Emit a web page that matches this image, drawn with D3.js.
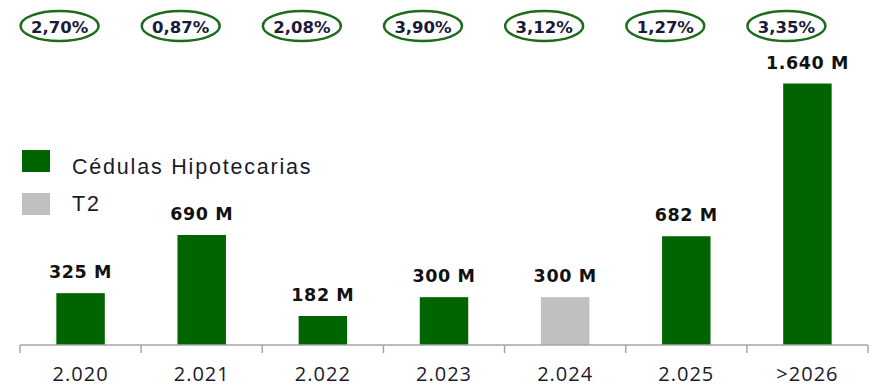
<!DOCTYPE html>
<html>
<head>
<meta charset="utf-8">
<script src="https://cdn.jsdelivr.net/npm/d3@7"></script>
<style>
  html, body { margin: 0; padding: 0; background: #fff; }
  svg { display: block; }
</style>
</head>
<body>
<svg id="chart" width="876" height="386"></svg>
<script>
// Maturities by year
const categories = ["2.020", "2.021", "2.022", "2.023", "2.024", "2.025", ">2026"];
const amounts = [325, 690, 182, 300, 300, 682, 1640];
const amountLabels = ["325 M", "690 M", "182 M", "300 M", "300 M", "682 M", "1.640 M"];
const seriesOf = ["Cédulas Hipotecarias", "Cédulas Hipotecarias", "Cédulas Hipotecarias",
                  "Cédulas Hipotecarias", "T2", "Cédulas Hipotecarias", "Cédulas Hipotecarias"];
const rates = ["2,70%", "0,87%", "2,08%", "3,90%", "3,12%", "1,27%", "3,35%"];
const seriesNames = ["Cédulas Hipotecarias", "T2"];
const seriesColors = ["#006400", "#c0c0c0"];

const svg = d3.select("#chart");
const baseY = 345;

const x = d3.scaleBand()
  .domain(categories)
  .range([20, 868])
  .paddingInner(0.6)
  .paddingOuter(0.3);

const y = d3.scaleLinear()
  .domain([0, 1800])
  .range([baseY, 58]);

const color = d3.scaleOrdinal().domain(seriesNames).range(seriesColors);

const rows = categories.map((c, i) => ({
  cat: c, value: amounts[i], label: amountLabels[i], series: seriesOf[i], rate: rates[i]
}));

// Bars
svg.append("g").selectAll("rect")
  .data(rows)
  .join("rect")
  .attr("x", d => x(d.cat))
  .attr("y", d => y(d.value))
  .attr("width", x.bandwidth())
  .attr("height", d => baseY - y(d.value))
  .attr("fill", d => color(d.series));

// Value labels above bars
svg.append("g").selectAll("text")
  .data(rows)
  .join("text")
  .attr("x", d => x(d.cat) + x.bandwidth() / 2)
  .attr("y", d => y(d.value) - 15)
  .attr("text-anchor", "middle")
  .attr("font-family", "DejaVu Sans, Verdana, sans-serif")
  .attr("font-weight", "bold")
  .attr("font-size", 17.5)
  .attr("letter-spacing", 0.6)
  .attr("fill", "#111")
  .text(d => d.label);

// Axis: baseline, boundary ticks, category labels
const axisG = svg.append("g");
axisG.append("line")
  .attr("x1", x.range()[0]).attr("x2", x.range()[1])
  .attr("y1", baseY).attr("y2", baseY)
  .attr("stroke", "#a6a6a6").attr("stroke-width", 1.5);
const bounds = d3.range(categories.length + 1).map(i => x.range()[0] + i * x.step());
axisG.selectAll("line.tick")
  .data(bounds)
  .join("line")
  .attr("class", "tick")
  .attr("x1", d => d).attr("x2", d => d)
  .attr("y1", baseY).attr("y2", baseY + 8)
  .attr("stroke", "#a6a6a6").attr("stroke-width", 1.5);

const labelAxis = d3.axisBottom(x).tickSize(0).tickPadding(0);
const labelsG = svg.append("g")
  .attr("transform", `translate(0,${baseY})`)
  .call(labelAxis);
labelsG.select(".domain").remove();
labelsG.selectAll("text")
  .attr("y", 36)
  .attr("dy", 0)
  .attr("font-family", "Open Sans, sans-serif")
  .attr("font-size", 20)
  .attr("letter-spacing", 1)
  .attr("fill", "#1a1a2a");

// Rate badges along the top
const badges = svg.append("g").selectAll("g")
  .data(rows)
  .join("g")
  .attr("transform", d => `translate(${x(d.cat) + x.bandwidth() / 2 - 21},26)`);
badges.append("ellipse")
  .attr("rx", 39).attr("ry", 15)
  .attr("fill", "none")
  .attr("stroke", "#1d6b1d")
  .attr("stroke-width", 2.5);
badges.append("text")
  .attr("text-anchor", "middle")
  .attr("y", 7)
  .attr("font-family", "DejaVu Sans, sans-serif")
  .attr("font-weight", "bold")
  .attr("font-size", 16.5)
  .attr("fill", "#1a1a3a")
  .text(d => d.rate);

// Legend
const legend = svg.append("g").selectAll("g")
  .data(seriesNames)
  .join("g")
  .attr("transform", (d, i) => `translate(22,${150 + i * 43})`);
legend.append("rect")
  .attr("width", 28).attr("height", 22)
  .attr("fill", d => color(d));
legend.append("text")
  .attr("x", 50).attr("y", (d, i) => i === 0 ? 24 : 18)
  .attr("font-family", "Liberation Sans, Arial, sans-serif")
  .attr("font-size", 21.5)
  .attr("letter-spacing", 1.8)
  .attr("fill", "#1a1a2a")
  .text(d => d);
</script>
</body>
</html>
